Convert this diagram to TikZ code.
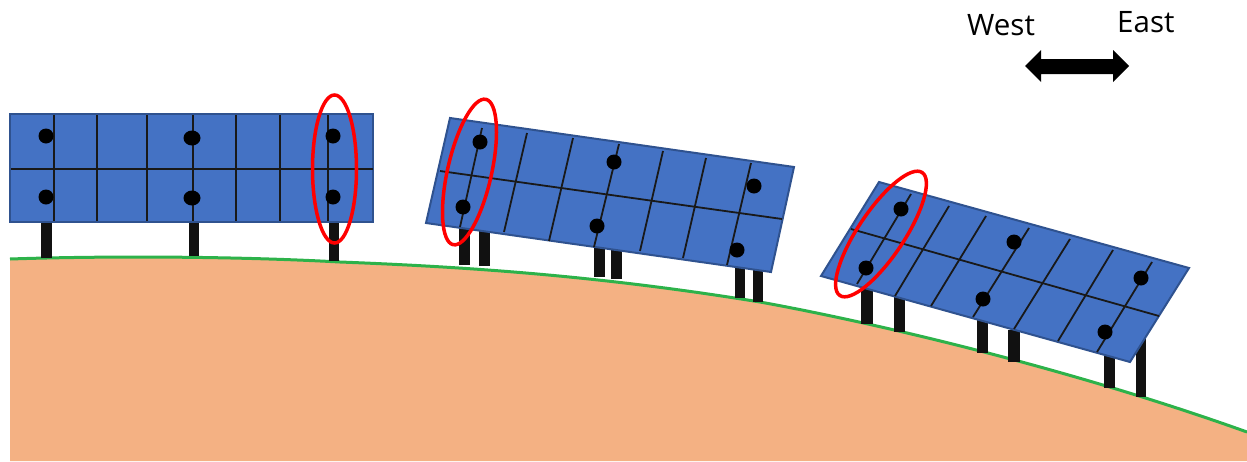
\documentclass[tikz,border=0pt]{standalone}
\usepackage{fontspec}
\setmainfont{Open Sans}
\definecolor{panelfill}{HTML}{4472C4}
\definecolor{paneledge}{HTML}{2F528F}
\definecolor{groundfill}{HTML}{F4B183}
\definecolor{groundline}{HTML}{2DB24A}
\definecolor{postcol}{HTML}{111111}
\tikzset{
  panelshape/.style={fill=panelfill,draw=paneledge,line width=2pt,line join=miter},
  gridline/.style={draw=black!90,line width=1.8pt},
  postbar/.style={fill=postcol,draw=none},
  bolt/.style={fill=black,draw=none},
  marker/.style={draw=red,line width=3.5pt,fill=none},
  compass/.style={font=\fontsize{29.5}{34}\selectfont,inner sep=0pt,anchor=base west}
}
\begin{document}
\begin{tikzpicture}[x=1pt,y=-1pt]
\useasboundingbox (0,0) rectangle (1247,461);
% ground
\fill[groundfill] (10,461) -- (10,259) .. controls (100,256) and (230,256) .. (340,262)
  .. controls (470,267) and (600,276) .. (760,302)
  .. controls (860,320) and (1060,365) .. (1247,432) -- (1247,461) -- cycle;
\draw[groundline,line width=3pt] (10,259) .. controls (100,256) and (230,256) .. (340,262)
  .. controls (470,267) and (600,276) .. (760,302)
  .. controls (860,320) and (1060,365) .. (1247,432);
% posts
\foreach \xa/\xb/\ya/\yb in {41/52/222/258,189/199/222/256,329/339/222/261,
  459/470/225/265,479/490/231/266,594/605/247/277,611/622/250/279,735/745/267/298,753/763/270/302,
  861/873/288/324,894/905/297/332,977/988/320/353,1008/1020/330/362,1104/1115/355/388,1136/1146/338/397}
  \fill[postbar] (\xa,\ya) rectangle (\xb,\yb);
% panel 1
\draw[panelshape] (10,114) rectangle (373,222);
\draw[gridline] (11,169) -- (373,169);
\foreach \x in {54,97,147,193,236,280,328} \draw[gridline] (\x,115) -- (\x,221);
% panel 2
\draw[panelshape] (450,118) -- (794,167) -- (771,272) -- (426,223) -- cycle;
\draw[gridline] (440,171) -- (782,219);
\foreach \xa/\ya/\xb/\yb in {482/128/460/227,527/133/504/232,573/138/549/241,619/144/594/247,663/151/640/251,706/158/683/258,751/163/727/265}
  \draw[gridline] (\xa,\ya) -- (\xb,\yb);
% panel 3
\draw[panelshape] (879,182) -- (1189,268) -- (1130,362) -- (821,276) -- cycle;
\draw[gridline] (851,229) -- (1159,316);
\foreach \xa/\ya/\xb/\yb in {911/194/857/284,949/206/895/296,986/216/931/306,1029/228/973/317,1070/239/1014/329,1113/250/1058/341,1152/262/1097/352}
  \draw[gridline] (\xa,\ya) -- (\xb,\yb);
% bolts
\foreach \x/\y in {46/136,46/197,333/136,333/197,480/142,463/207,614/162,597/226,754/186,737/250,901/209,866/268,1014/242,983/299,1141/278,1105/332}
  \fill[bolt] (\x,\y) circle[radius=7.5pt];
\foreach \x/\y in {192/138,192/198}
  \fill[bolt] (\x,\y) ellipse[x radius=8.5pt,y radius=7.5pt];
% red markers
\draw[marker] (334.5,169) ellipse[x radius=22pt,y radius=74pt];
\draw[marker,shift={(469.5,172)},rotate=-12.7] (0,0) ellipse[x radius=22pt,y radius=74.5pt];
\draw[marker,shift={(881,234)},rotate=-33.8] (0,0) ellipse[x radius=23pt,y radius=74pt];
% compass
\fill[black] (1025,66) -- (1041,50) -- (1041,59) -- (1113,59) -- (1113,50) -- (1129,66)
  -- (1113,82) -- (1113,74) -- (1041,74) -- (1041,82) -- cycle;
\node[compass] (west) at (967,35) {West};
\node[compass] (east) at (1117,32) {East};
\end{tikzpicture}
\end{document}
